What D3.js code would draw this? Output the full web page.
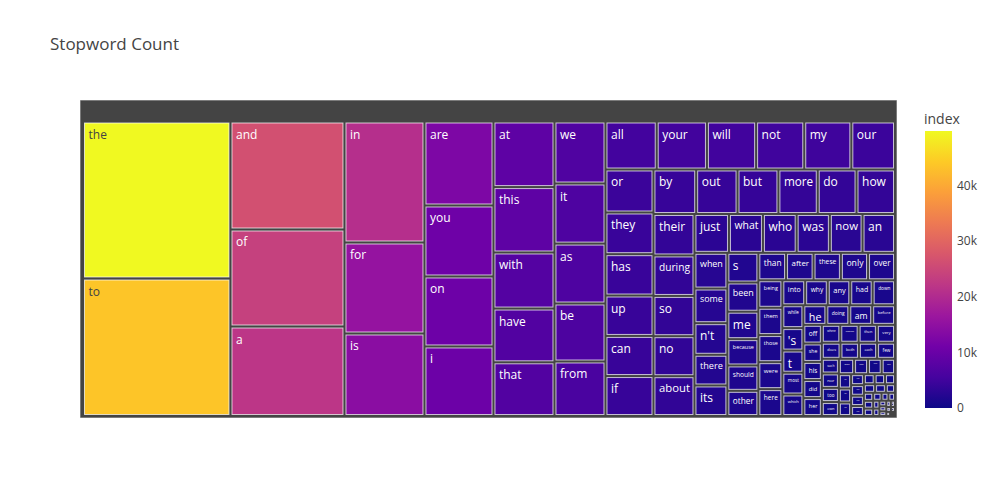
<!DOCTYPE html>
<html>
<head>
<meta charset="utf-8">
<script src="https://cdn.jsdelivr.net/npm/d3@7"></script>
<style>
  body { margin: 0; background: #fff; }
  svg { display: block; font-family: "Open Sans", "Noto Sans", sans-serif; }
</style>
</head>
<body>
<svg id="chart" width="1000" height="500"></svg>
<script>
// ---- data ----
const words = [
  "the","to","and","of","a","in","for","is","are","you","on","i",
  "at","this","with","have","that","we","it","as","be","from",
  "all","your","will","not","my","our","or","they","has","up","can","if",
  "by","out","but","more","do","how","their","during","so","no","about",
  "just","what","who","was","now","an","when","some","n't","there","its",
  "s","been","me","because","should","other","than","after","these","only","over",
  "being","them","those","were","here","into","why","any","had","down",
  "while","'s","t","most","which","he","doing","am","before",
  "off","she","his","did","her","where","though","then","very",
  "does","both","each","few","such","nor","too","own","same","again","further","once",
  "under","above","below","between","through","against","until",
  "having","whom","itself","himself","themselves","myself","yourself","herself","ourselves","yours",
  "ours","theirs","hers","yourselves","don","ll","re","ve","m","d","y","o","ma","ain"
];
const counts = [
  49800,43613,26476,23780,21941,20816,15655,14193,12464,10535,10387,10322,
  8602,8580,7355,7053,7043,6800,6591,6570,6361,5978,
  5290,5183,5075,4968,4860,4507,4439,4301,4269,4172,4140,4125,
  4086,3957,3914,3763,3710,3682,3656,3570,3548,3527,3510,
  2882,2839,2817,2774,2731,2710,2527,2452,2236,2172,2161,
  1978,1946,1828,1753,1692,1677,1634,1624,1613,1602,1591,
  1419,1409,1398,1391,1387,1226,1215,1209,1204,1200,
  1032,1015,1000,985,972,968,966,963,961,
  742,731,720,716,712,710,705,701,697,
  645,637,628,619,538,529,520,512,503,462,452,441,
  376,366,355,301,292,284,275,
  232,224,215,206,198,168,161,155,148,142,
  118,112,105,99,82,75,69,62,56,49,43,34,26,17
];
const colorTicks = [0, 10000, 20000, 30000, 40000];
const colorTickLabels = ["0", "10k", "20k", "30k", "40k"];
const plasma = ["#0d0887","#46039f","#7201a8","#9c179e","#bd3786","#d8576b","#ed7953","#fb9f3a","#fdca26","#f0f921"];

// ---- setup ----
const svg = d3.select("#chart");
const W = 817, H = 318, X0 = 80, Y0 = 100;
const cmax = d3.max(counts);
const color = d3.scaleLinear()
  .domain(plasma.map((_, i) => cmax * i / (plasma.length - 1)))
  .range(plasma)
  .interpolate(d3.interpolateRgb)
  .clamp(true);

svg.append("text")
  .attr("x", 50).attr("y", 50)
  .attr("font-size", 17).attr("fill", "#444")
  .text("Stopword Count");

const root = d3.hierarchy({ name: "", children: words.map((w, i) => ({ name: w, value: counts[i] })) })
  .sum(d => d.children ? 0 : d.value)
  .sort((a, b) => b.value - a.value);

d3.treemap()
  .tile(d3.treemapSquarify.ratio(1))
  .size([W, H])
  .paddingTop(23)
  .paddingLeft(4.5)
  .paddingRight(3.5)
  .paddingBottom(3.5)
  .paddingInner(3)(root);

const g = svg.append("g").attr("transform", `translate(${X0},${Y0})`);

g.append("rect")
  .attr("x", root.x0).attr("y", root.y0)
  .attr("width", root.x1 - root.x0).attr("height", root.y1 - root.y0)
  .attr("fill", "#444").attr("stroke", "#fff").attr("stroke-opacity", 0.6).attr("stroke-width", 1);

function isLight(c) {
  const r = d3.rgb(c);
  return (r.r * 299 + r.g * 587 + r.b * 114) / 1000 >= 128;
}

const leaves = g.selectAll("g.leaf").data(root.leaves()).join("g").attr("class", "leaf");
leaves.append("rect")
  .attr("x", d => d.x0).attr("y", d => d.y0)
  .attr("width", d => Math.max(0, d.x1 - d.x0))
  .attr("height", d => Math.max(0, d.y1 - d.y0))
  .attr("fill", d => color(d.value))
  .attr("stroke", "#fff").attr("stroke-opacity", 0.7).attr("stroke-width", 1);

leaves.append("text")
  .attr("font-size", 12)
  .attr("fill", d => isLight(color(d.value)) ? "#444" : "#fff")
  .text(d => d.data.name)
  .each(function (d) {
    const tw = this.getComputedTextLength();
    const w = d.x1 - d.x0, h = d.y1 - d.y0;
    const availW = w - 7, availH = h - 4;
    let s = Math.min(1, availW / tw, availH / 14);
    if (s < 0) s = 0;
    const tx = d.x0 + 4, ty = d.y0 + 3;
    d3.select(this).attr("transform", `translate(${tx},${ty}) scale(${s}) translate(0,12.5)`);
  });

// ---- colorbar ----
const cb = svg.append("g");
const cbX = 925, cbW = 27, cbTop = 131, cbBot = 408;
const yScale = d3.scaleLinear().domain([0, cmax]).range([cbBot, cbTop]);
const defs = svg.append("defs");
const grad = defs.append("linearGradient").attr("id", "cbgrad")
  .attr("x1", 0).attr("y1", 1).attr("x2", 0).attr("y2", 0);
plasma.forEach((c, i) => grad.append("stop").attr("offset", i / (plasma.length - 1)).attr("stop-color", c));
cb.append("rect").attr("x", cbX).attr("y", cbTop).attr("width", cbW).attr("height", cbBot - cbTop)
  .attr("fill", "url(#cbgrad)");
const axis = d3.axisRight(yScale).tickValues(colorTicks)
  .tickFormat((d, i) => colorTickLabels[i]).tickSize(0).tickPadding(5);
const ax = cb.append("g").attr("transform", `translate(${cbX + cbW},0)`).call(axis);
ax.select(".domain").remove();
ax.selectAll("text").attr("font-size", 12).attr("fill", "#444").attr("font-family", "\"Open Sans\", sans-serif");
cb.append("text").attr("x", cbX - 1).attr("y", 124).attr("font-size", 14).attr("fill", "#444").text("index");
</script>
</body>
</html>
